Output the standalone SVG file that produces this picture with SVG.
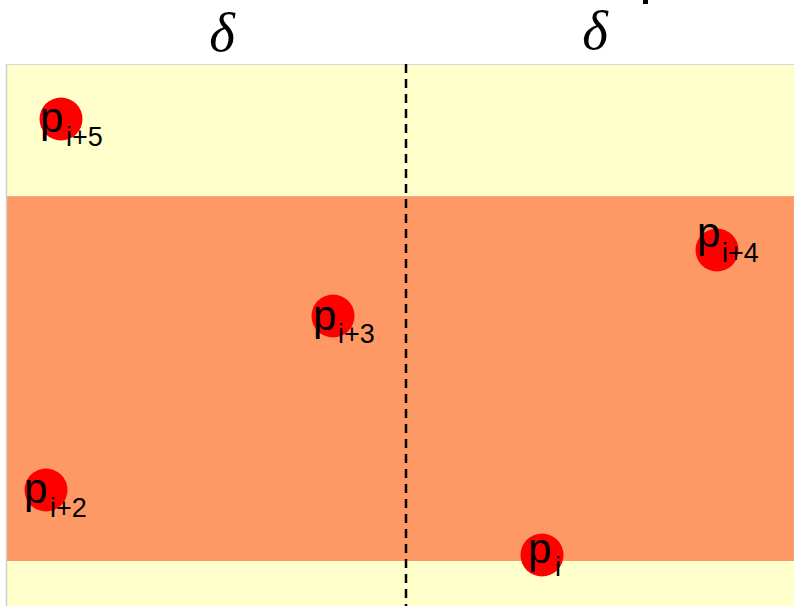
<svg xmlns="http://www.w3.org/2000/svg" width="794" height="606" viewBox="0 0 794 606">
<style>
.pt{fill:#ff0000;filter:url(#blur)}
.lbl{font-family:"Liberation Sans",Arial,sans-serif;fill:#000}
.p{font-size:42px}
.sub{font-size:27px}
.delta{font-family:"Liberation Serif","Times New Roman",serif;font-style:italic;font-size:55px;fill:#000;text-anchor:middle}
</style>
<defs>
<filter id="blur" x="-20%" y="-20%" width="140%" height="140%"><feGaussianBlur stdDeviation="0.5"/></filter>
</defs>
<rect width="794" height="606" fill="#fff"/>
<g id="background">
<rect x="6" y="64" width="788" height="542" fill="#ffffcc"/>
<rect x="6" y="196" width="788" height="365" fill="#fe9966"/>
<line x1="6" y1="196.5" x2="794" y2="196.5" stroke="#e8b07a" stroke-width="1"/>
<line x1="6" y1="64.5" x2="794" y2="64.5" stroke="#d8d8d8" stroke-width="1"/>
<line x1="6.5" y1="64" x2="6.5" y2="606" stroke="#d0d0d0" stroke-width="1.5"/>
</g>
<g id="connectors">
<line x1="406" y1="64" x2="406" y2="606" stroke="#000" stroke-width="2.5" stroke-dasharray="9,6"/>
</g>
<g id="labels">
<text class="delta" x="222" y="51">δ</text>
<text class="delta" x="595" y="49">δ</text>
<rect x="643" y="0" width="5" height="4" fill="#000"/>
</g>
<g id="p_i5">
<circle class="pt" cx="61" cy="119" r="21.5"/>
<text class="lbl" x="40" y="132"><tspan class="p">p</tspan><tspan class="sub" x="66" y="146">i+5</tspan></text>
</g>
<g id="p_i3">
<circle class="pt" cx="333" cy="316" r="21.5"/>
<text class="lbl" x="313" y="330"><tspan class="p">p</tspan><tspan class="sub" x="338" y="343">i+3</tspan></text>
</g>
<g id="p_i4">
<circle class="pt" cx="717" cy="250" r="21.5"/>
<text class="lbl" x="697" y="247"><tspan class="p">p</tspan><tspan class="sub" x="722" y="262">i+4</tspan></text>
</g>
<g id="p_i2">
<circle class="pt" cx="46" cy="490" r="21.5"/>
<text class="lbl" x="24" y="503"><tspan class="p">p</tspan><tspan class="sub" x="50" y="517">i+2</tspan></text>
</g>
<g id="p_i">
<circle class="pt" cx="542" cy="555" r="21.5"/>
<text class="lbl" x="528" y="563"><tspan class="p">p</tspan><tspan class="sub" x="555" y="576">i</tspan></text>
</g>
</svg>
